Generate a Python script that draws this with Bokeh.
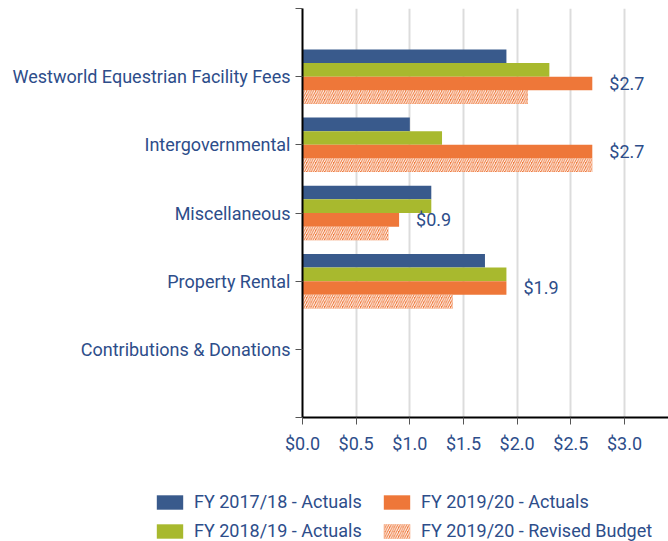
from bokeh.plotting import figure
from bokeh.layouts import column
from bokeh.models import (ColumnDataSource, Range1d, FixedTicker, NumeralTickFormatter,
                          Legend, LegendItem)
from bokeh.transform import dodge
from bokeh.core.properties import value
from bokeh.embed import file_html
from bokeh.resources import INLINE

categories = ["Westworld Equestrian Facility Fees", "Intergovernmental", "Miscellaneous",
              "Property Rental", "Contributions & Donations"]
fy1718_actuals = [1.9, 1.0, 1.2, 1.7, 0.0]
fy1819_actuals = [2.3, 1.3, 1.2, 1.9, 0.0]
fy1920_actuals = [2.7, 2.7, 0.9, 1.9, 0.0]
fy1920_revised = [2.1, 2.7, 0.8, 1.4, 0.0]
x_ticks = [0.0, 0.5, 1.0, 1.5, 2.0, 2.5, 3.0]
series_names = ["FY 2017/18 - Actuals", "FY 2018/19 - Actuals",
                "FY 2019/20 - Actuals", "FY 2019/20 - Revised Budget"]

BLUE = "#395a8c"
GREEN = "#a8b92e"
ORANGE = "#ee7739"
TEXT = "#2d4d8a"
FONT = "Roboto"
FS = "18px"

n = len(categories)
pos = [n - i for i in range(n)]  # top category highest

src = ColumnDataSource(dict(
    pos=pos, cat=categories,
    a=fy1718_actuals, b=fy1819_actuals, c=fy1920_actuals, d=fy1920_revised,
))

p = figure(frame_width=366, frame_height=409, x_range=Range1d(0, 3.41), y_range=Range1d(0, n + 1),
           output_backend="svg", toolbar_location=None,
           min_border_left=302, min_border_right=0, min_border_top=8, min_border_bottom=36)
p.outline_line_color = None
p.background_fill_color = "white"
p.border_fill_color = "white"

styles = [dict(fill_color=BLUE, line_color=None),
          dict(fill_color=GREEN, line_color=None),
          dict(fill_color=ORANGE, line_color=None),
          dict(fill_color=ORANGE, line_color=None, hatch_pattern="/", hatch_color="white",
               hatch_scale=4.5, hatch_weight=1.0)]
cols = ["a", "b", "c", "d"]
offsets = [0.3, 0.1, -0.1, -0.3]
bh = 0.2
for col, off, st in zip(cols, offsets, styles):
    p.hbar(y=dodge("pos", off, range=p.y_range), right=col, left=0, height=bh, source=src, **st)

# value labels for FY 2019/20 Actuals
lab_pos = [pp for pp, v in zip(pos, fy1920_actuals) if v > 0]
lab_val = [v for v in fy1920_actuals if v > 0]
lab_src = ColumnDataSource(dict(pos=lab_pos, x=lab_val, t=["$%.1f" % v for v in lab_val]))
p.text(x="x", y=dodge("pos", -0.1, range=p.y_range), text="t", source=lab_src,
       x_offset=17, text_align="left", text_baseline="middle",
       text_font=value(FONT), text_font_size=FS, text_color=TEXT)

# axes
p.xaxis.ticker = FixedTicker(ticks=x_ticks)
p.xaxis.formatter = NumeralTickFormatter(format="$0.0")
p.yaxis.ticker = FixedTicker(ticks=list(range(0, n + 2)))
p.yaxis.major_label_overrides = {0: "", n + 1: ""} | {pp: c for pp, c in zip(pos, categories)}
for ax in (p.xaxis[0], p.yaxis[0]):
    ax.axis_line_color = "black"
    ax.axis_line_width = 2
    ax.major_tick_line_color = "#555555"
    ax.major_tick_line_width = 1
    ax.major_tick_out = 7
    ax.major_tick_in = 0
    ax.minor_tick_line_color = None
    ax.major_label_text_font = FONT
    ax.major_label_text_font_size = FS
    ax.major_label_text_color = TEXT
p.xaxis.major_label_standoff = 8
p.yaxis.major_label_standoff = 5

p.xgrid.grid_line_color = "#dcdcdc"
p.xgrid.grid_line_width = 2
p.ygrid.grid_line_color = None

# legend strip below the chart (its own figure, proxies drawn outside its view)
p2 = figure(width=668, height=88, x_range=Range1d(0, 1), y_range=Range1d(100, 101),
            output_backend="svg", toolbar_location=None,
            x_axis_location=None, y_axis_location=None, min_border=0)
try:
    p2.frame_align = False
except Exception:
    pass
p2.outline_line_color = None
p2.grid.grid_line_color = None
p2.border_fill_color = "white"
proxies = [p2.hbar(y="pos", right=col, left=0, height=bh, source=src, **st)
           for col, st in zip(cols, styles)]

legend = Legend(items=[LegendItem(label=nm, renderers=[r]) for nm, r in zip(series_names, proxies)],
                ncols=2, location=(153, 3), border_line_color=None,
                background_fill_alpha=0,
                label_text_font=FONT, label_text_font_size=FS, label_text_color=TEXT,
                glyph_width=33, glyph_height=18, label_height=18, label_width=178,
                label_standoff=8, spacing=8, padding=0, margin=0)
p2.add_layout(legend, "center")

layout = column(p, p2, spacing=0)
open("out.html", "w").write(file_html(layout, INLINE))
